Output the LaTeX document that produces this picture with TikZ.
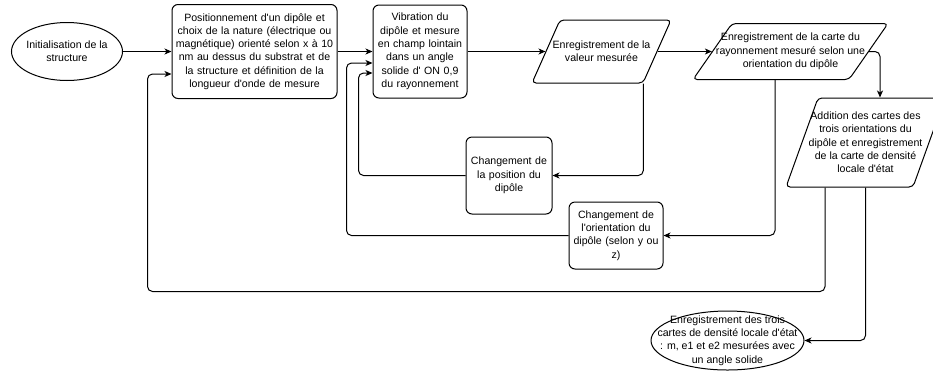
\documentclass[tikz,border=0pt]{standalone}
\usepackage{fontspec}
\setmainfont{Liberation Sans}[Ligatures=TeXOff]
\usepackage{tikz}
\usetikzlibrary{arrows.meta,calc,positioning,shapes.geometric}
\newcommand{\flowfont}{\fontsize{10.6}{13.3}\selectfont}
\tikzset{
  flowbox/.style={draw,rectangle,rounded corners=6pt,align=center,inner sep=0pt,font=\flowfont},
  flowend/.style={draw,ellipse,align=center,inner sep=-4pt,font=\flowfont},
  datanode/.style={draw,trapezium,rounded corners=4pt},
  datatext/.style={align=center,inner sep=0pt,font=\flowfont},
  flowarrow/.style={-{Stealth[length=7pt,width=6pt,inset=2pt]},rounded corners=5pt}
}

\begin{document}
\begin{tikzpicture}[x=1pt,y=-1pt,line width=1pt]
  \useasboundingbox (0,0) rectangle (933,373);
  \clip (0,0) rectangle (933,373);
  \node[flowend,minimum width=111pt,minimum height=58pt] (init) at (67,51.5) {Initialisation de la\\structure};
  \node[flowbox,minimum width=165pt,minimum height=94pt,text width=165pt] (posit) at (254.5,51.5)
    {Positionnement d'un dipôle et\\choix de la nature (électrique ou\\magnétique) orienté selon x à 10\\nm au dessus du substrat et de\\la structure et définition de la\\longueur d'onde de mesure};
  \node[flowbox,minimum width=94pt,minimum height=93pt,text width=94pt] (vibr) at (420,51.5)
    {Vibration du\\dipôle et mesure\\en champ lointain\\dans un angle\\solide d' ON 0,9\\du rayonnement};

  \node[datanode,trapezium left angle=66.04,trapezium right angle=113.96,inner xsep=41.5pt,inner ysep=31.5pt] (valeur) at (601.5,51.5) {};
  \node[datatext] (valeurtext) at (valeur) {Enregistrement de la\\valeur mesurée};
  \node[datanode,trapezium left angle=55.14,trapezium right angle=124.86,inner xsep=58.5pt,inner ysep=28pt] (carte) at (790.5,51.5) {};
  \node[datatext] (cartetext) at (carte) {Enregistrement de la carte du\\rayonnement mesuré selon une\\orientation du dipôle};
  \node[datanode,trapezium left angle=70.22,trapezium right angle=109.78,inner xsep=47.5pt,inner ysep=44.5pt] (addition) at (865.5,142.5) {};
  \node[datatext] (additiontext) at (addition) {Addition des cartes des\\trois orientations du\\dipôle et enregistrement\\de la carte de densité\\locale d'état};

  \node[flowbox,minimum width=86pt,minimum height=77pt,text width=86pt] (position) at (509,175.5)
    {Changement de\\la position du\\dipôle};
  \node[flowbox,minimum width=94pt,minimum height=67pt,text width=94pt] (orient) at (616,235.5)
    {Changement de\\l'orientation du\\dipôle (selon y ou\\z)};
  \node[flowend,minimum width=153pt,minimum height=59pt,inner xsep=-20pt,inner ysep=-10pt] (final) at (727.5,340.5)
    {Enregistrement des trois\\cartes de densité locale d'état\\: m, e1 et e2 mesurées avec\\un angle solide};

  \draw[flowarrow] (init) -- (posit);
  \draw[flowarrow] (posit) -- (vibr);
  \draw[flowarrow] (vibr) -- (valeur);
  \draw[flowarrow] (valeur) -- (carte);
  \draw[flowarrow] (carte.east) -| ([xshift=14.5pt]addition.north);
  \draw[flowarrow] (valeur.bottom right corner) |- (position.east);
  \draw[flowarrow] (position.west) -- ++(-107,0) |- ($(vibr.west)+(0,21.5)$);
  \draw[flowarrow] ($(carte.south)+(-15.5,0)$) |- (orient.east);
  \draw[flowarrow] (orient.west) -- ++(-222,0) |- ($(vibr.west)+(0,11.5)$);
  \draw[flowarrow] ($(addition.south)+(-40.5,0)$) -- ++(0,104) -| ($(posit.west)+(-24,22.5)$) -- ($(posit.west)+(0,22.5)$);
  \draw[flowarrow] (addition.south) |- (final.east);
\end{tikzpicture}
\end{document}
